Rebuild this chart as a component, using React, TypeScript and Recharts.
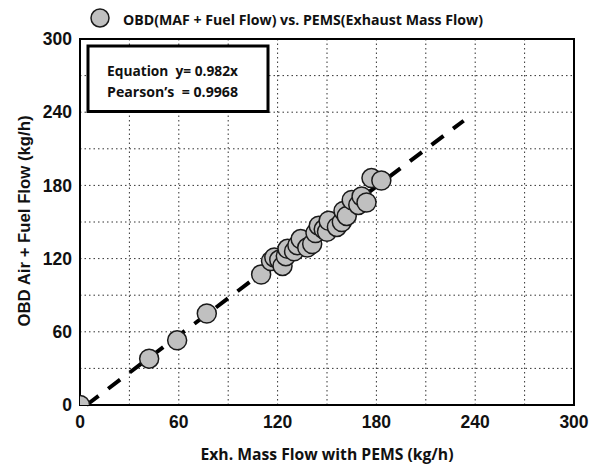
import React from 'react';
import {
  ScatterChart,
  Scatter,
  XAxis,
  YAxis,
  CartesianGrid,
  ReferenceLine,
  ReferenceArea,
  Customized,
} from 'recharts';

// ---- Data ----
const pemsFlow = [0, 42, 59, 77, 110, 116, 118, 121, 123, 125, 126, 130, 132, 134, 138, 141, 143, 145, 148, 150, 151, 156, 159, 160, 162, 165, 169, 171, 174, 177, 183];
const obdFlow = [0, 38, 53, 75, 107, 118, 121, 119, 114, 122, 128, 126, 131, 136, 129, 132, 141, 147, 144, 142, 151, 146, 150, 159, 155, 168, 164, 171, 166, 186, 184];
const fitLineX = [4, 233];
const fitLineY = [0, 233];
const axisTicks = [0, 30, 60, 90, 120, 150, 180, 210, 240, 270, 300];
const labeledTicks = [0, 60, 120, 180, 240, 300];

const seriesName = 'OBD(MAF + Fuel Flow) vs. PEMS(Exhaust Mass Flow)';
const equationText = 'Equation  y= 0.982x';
const pearsonText = 'Pearson\u2019s  = 0.9968';
const xTitle = 'Exh. Mass Flow with PEMS (kg/h)';
const yTitle = 'OBD Air + Fuel Flow (kg/h)';

const points = pemsFlow.map((x, i) => ({ x, y: obdFlow[i] }));

const tickFont = {
  fontFamily: '"Liberation Sans", Arial, sans-serif',
  fontWeight: 700,
  fontSize: 17.5,
  fill: '#111',
};
const calibriLike = '"Open Sans", "Liberation Sans", sans-serif';

const tickFmt = (v: number) => (labeledTicks.includes(v) ? String(v) : '');

const Dot = (props: any) => {
  const { cx, cy } = props;
  if (cx == null || cy == null) return null;
  return <circle cx={cx} cy={cy} r={9.5} fill="#c0c0c0" stroke="#1a1a1a" strokeWidth={1.5} />;
};

const Decorations = () => (
  <g>
    {/* legend */}
    <circle cx={100} cy={18} r={9} fill="#c0c0c0" stroke="#1a1a1a" strokeWidth={1.5} />
    <text x={123} y={25} fontFamily={calibriLike} fontWeight={700} fontSize={15} fill="#111" textLength={360} lengthAdjust="spacingAndGlyphs">
      {seriesName}
    </text>
    {/* equation box */}
    <rect x={88} y={46} width={180} height={65.5} fill="#fff" stroke="#000" strokeWidth={3} />
    <text x={107} y={76} fontFamily={calibriLike} fontWeight={700} fontSize={15} fill="#111" textLength={131} lengthAdjust="spacingAndGlyphs" style={{ whiteSpace: 'pre' }}>
      {equationText}
    </text>
    <text x={107} y={97} fontFamily={calibriLike} fontWeight={700} fontSize={15} fill="#111" textLength={131} lengthAdjust="spacingAndGlyphs" style={{ whiteSpace: 'pre' }}>
      {pearsonText}
    </text>
    {/* axis titles */}
    <text x={327} y={460} textAnchor="middle" fontFamily={calibriLike} fontWeight={700} fontSize={16} fill="#111" textLength={253} lengthAdjust="spacingAndGlyphs">
      {xTitle}
    </text>
    <text
      x={0}
      y={0}
      transform="translate(30,221) rotate(-90)"
      textAnchor="middle"
      fontFamily='"Liberation Sans", Arial, sans-serif'
      fontWeight={700}
      fontSize={16}
      fill="#111"
      textLength={211}
      lengthAdjust="spacingAndGlyphs"
    >
      {yTitle}
    </text>
  </g>
);

export default function App() {
  return (
    <div style={{ position: 'absolute', left: 0, top: 0, width: 597, height: 467, background: '#fff' }}>
      <ScatterChart width={597} height={467} margin={{ top: 39, right: 23, left: 0, bottom: 0 }}>
        <CartesianGrid stroke="#333" strokeDasharray="1.5 3" strokeWidth={1} />
        <XAxis
          type="number"
          dataKey="x"
          domain={[0, 300]}
          ticks={axisTicks}
          tickFormatter={tickFmt}
          interval={0}
          allowDataOverflow
          tickLine={false}
          tickMargin={5}
          height={62}
          axisLine={{ stroke: '#000', strokeWidth: 2 }}
          tick={tickFont}
        />
        <YAxis
          type="number"
          dataKey="y"
          domain={[0, 300]}
          ticks={axisTicks}
          tickFormatter={tickFmt}
          interval={0}
          allowDataOverflow
          tickLine={false}
          width={80}
          axisLine={{ stroke: '#000', strokeWidth: 2 }}
          tick={tickFont}
        />
        <ReferenceArea x1={0} x2={300} y1={0} y2={300} fill="none" stroke="#000" strokeWidth={2} ifOverflow="visible" />
        <ReferenceLine
          segment={[
            { x: fitLineX[0], y: fitLineY[0] },
            { x: fitLineX[1], y: fitLineY[1] },
          ]}
          stroke="#000"
          strokeWidth={4}
          strokeDasharray="15 12"
        />
        <Scatter data={points} shape={Dot} isAnimationActive={false} />
        <Customized component={Decorations} />
      </ScatterChart>
    </div>
  );
}
